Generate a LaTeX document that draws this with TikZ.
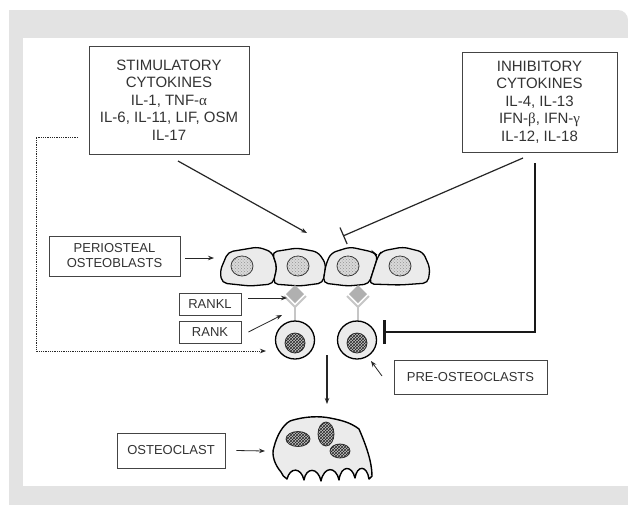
\documentclass[tikz,border=0pt]{standalone}
\usepackage{fontspec}
\setmainfont{Liberation Sans}
\newfontfamily\grk{Liberation Serif}
\usetikzlibrary{arrows.meta,patterns}
\definecolor{txt}{HTML}{333333}
\definecolor{frame}{HTML}{E3E3E3}
\definecolor{boxc}{HTML}{444444}
\definecolor{cellfill}{HTML}{EBEBEB}
\begin{document}
\begin{tikzpicture}[x=1pt,y=-1pt,
  >={Stealth[length=6pt,width=4.5pt]},
  bigbox/.style={draw=boxc,line width=1pt,text=txt,align=center,inner sep=0pt,
     font=\fontsize{15}{17.5}\selectfont},
  lblbox/.style={draw=boxc,line width=0.8pt,text=txt,align=center,inner sep=0pt,
     font=\fontsize{13}{15}\selectfont},
  thin/.style={line width=0.8pt,draw=black!85},
  mid/.style={line width=1.2pt,draw=black!85},
  cellshape/.style={fill=cellfill,draw=black,line width=1.3pt,rounded corners=5pt},
  obnuc/.style={fill=gray!30,draw=black!80,line width=0.8pt,
     postaction={pattern=crosshatch dots,pattern color=gray!85}},
  darknuc/.style={fill=gray!45,draw=black!80,line width=0.8pt,
     postaction={pattern=crosshatch,pattern color=black!85}},
  recep/.style={draw=gray!45,line width=2pt},
]
\useasboundingbox (0,0) rectangle (628,504);
\fill[white] (0,0) rectangle (628,504);
% background frame
\fill[frame,rounded corners=10pt] (9,10) rectangle (628,520);
\fill[frame] (9,10) rectangle (40,40);
\fill[white] (23,38) rectangle (640,486);

% text boxes
\node[bigbox,minimum width=160pt,minimum height=108pt] (stim) at (169,100)
  {STIMULATORY\\CYTOKINES\\IL-1, TNF-{\grk α}\\IL-6, IL-11, LIF, OSM\\IL-17};
\node[bigbox,minimum width=155pt,minimum height=100pt] (inh) at (539.5,102)
  {INHIBITORY\\CYTOKINES\\IL-4, IL-13\\IFN-{\grk β}, IFN-{\grk γ}\\IL-12, IL-18};
\node[lblbox,minimum width=131pt,minimum height=40pt] (perio) at (114.5,256)
  {PERIOSTEAL\\OSTEOBLASTS};
\node[lblbox,minimum width=62pt,minimum height=22pt] (rankl) at (210,304) {RANKL};
\node[lblbox,minimum width=62pt,minimum height=22pt] (rank) at (210,332) {RANK};
\node[lblbox,minimum width=153pt,minimum height=34pt] (preo) at (470.5,377) {PRE-OSTEOCLASTS};
\node[lblbox,minimum width=108pt,minimum height=35pt] (oclbl) at (171,450.5) {OSTEOCLAST};

% osteoblast cells
\draw[cellshape] (228,252) -- (258,247) -- (272,252) -- (277,267) -- (273,284) -- (250,286) -- (222,283) -- (220,271) -- cycle;
\draw[cellshape] (272,252) -- (297,248) -- (318,252) -- (326,264) -- (323,283) -- (300,286) -- (273,284) -- (277,267) -- cycle;
\draw[cellshape] (326,264) -- (331,253) -- (350,247) -- (373,252) -- (378,256) -- (369,284) -- (348,286) -- (323,283) -- cycle;
\draw[cellshape] (378,256) -- (382,251) -- (403,247) -- (423,252) -- (430,268) -- (428,283) -- (400,285) -- (369,284) -- cycle;
\foreach \cx in {242,298,348,400}
  \draw[obnuc] (\cx,266) ellipse [x radius=11pt,y radius=10pt];

% receptors (RANKL / RANK)
\foreach \rx in {295,358}{
  \draw[recep] (\rx,307) -- (\rx,322);
  \draw[recep,line join=miter] (\rx-11,296) -- (\rx,307) -- (\rx+11,296);
  \fill[gray!62] (\rx,285) -- (\rx+9,294) -- (\rx,303) -- (\rx-9,294) -- cycle;
}

% pre-osteoclasts
\draw[fill=cellfill,draw=black,line width=1.3pt] (295,340) ellipse [x radius=19.5pt,y radius=19pt];
\draw[darknuc] (295,343) circle (10pt);
\draw[fill=cellfill,draw=black,line width=1.3pt] (357,340) ellipse [x radius=19.5pt,y radius=19pt];
\draw[darknuc] (357,343) circle (10pt);

% osteoclast
\draw[fill=cellfill,draw=black,line width=1.4pt,line join=round]
  (290,421) .. controls (305,416) and (320,416) .. (330,418)
  .. controls (340,420) and (350,422) .. (359,429)
  .. controls (366,445) and (372,462) .. (372,476)
  -- (369,479)
  .. controls (367,465) and (357,465) .. (355,478)
  .. controls (352,465) and (341,465) .. (339,480)
  .. controls (336,466) and (324,466) .. (321,481)
  .. controls (318,467) and (306,467) .. (304,480)
  .. controls (301,467) and (290,467) .. (287,479)
  .. controls (284,477) and (282,475) .. (281,472)
  .. controls (275,465) and (271,455) .. (274,447)
  .. controls (277,435) and (283,425) .. (290,421) -- cycle;
\draw[darknuc] (298,439) ellipse [x radius=12pt,y radius=7.5pt];
\draw[darknuc] (326,434) ellipse [x radius=8pt,y radius=12pt];
\draw[darknuc] (340,451) ellipse [x radius=10pt,y radius=7pt];

% connector end points
\coordinate (stimS) at (178,161);
\coordinate (stimT) at (307,233);
\coordinate (inhS) at (523,158);
\coordinate (inhT) at (343,236);
\coordinate (thkS) at (535,163);
\coordinate (thkC) at (535,332);
\coordinate (thkT) at (383,332);
\coordinate (dotS) at (78,137);
\coordinate (dotA) at (36,137);
\coordinate (dotB) at (36,351);
\coordinate (dotT) at (266,351);
\coordinate (perT) at (214,258);
\coordinate (ranklS) at (248,298);
\coordinate (ranklT) at (287,298);
\coordinate (rankT) at (282,315);
\coordinate (preS) at (382,376);
\coordinate (preT) at (371,361);
\coordinate (vS) at (327,355);
\coordinate (vT) at (327,404);
\coordinate (ocT) at (265,451);

% connectors
\draw[mid,->] (stimS) -- (stimT);
\draw[mid,-{Bar[width=18pt]}] (inhS) -- (inhT);
\draw[line width=2.5pt,draw=black!90,-{Bar[width=24pt]}] (thkS) -- (thkC) -- (thkT);
\draw[thin,densely dotted,->] (dotS) -- (dotA) -- (dotB) -- (dotT);
\draw[thin,->] (perio.east)++(5,2) -- (perT);
\draw[thin,->] (ranklS) -- (ranklT);
\draw[thin,->] ([xshift=7pt]rank.east) -- (rankT);
\draw[thin,->] (preS) -- (preT);
\draw[mid,->] (vS) -- (vT);
\draw[thin,->] ([xshift=11pt]oclbl.east) -- (ocT);
\end{tikzpicture}
\end{document}
